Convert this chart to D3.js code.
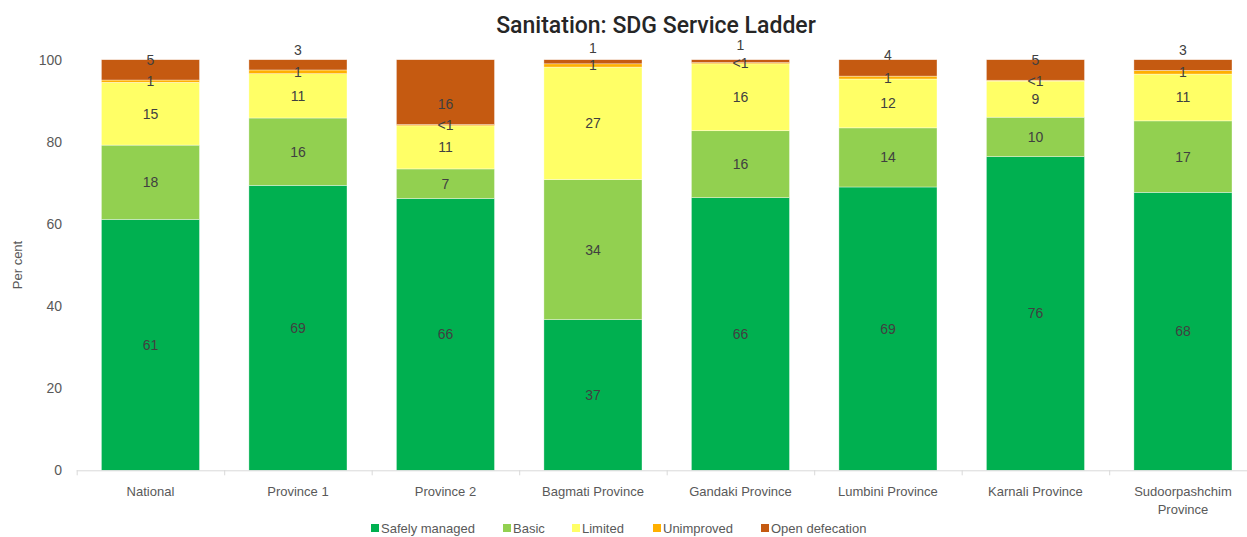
<!DOCTYPE html>
<html>
<head>
<meta charset="utf-8">
<script src="https://cdn.jsdelivr.net/npm/d3@7"></script>
<style>
  html, body { margin: 0; padding: 0; background: #fff; }
  svg { display: block; font-family: "Liberation Sans", Arial, sans-serif; }
</style>
</head>
<body>
<svg id="chart" width="1247" height="537"></svg>
<script>
// categories and the five ladder levels (per cent)
const categories = ['National', 'Province 1', 'Province 2', 'Bagmati Province', 'Gandaki Province',
                    'Lumbini Province', 'Karnali Province', 'Sudoorpashchim Province'];
const safelyManaged = [61.1, 69.4, 66.2, 36.7, 66.4, 69.0, 76.4, 67.7];
const basic         = [18.1, 16.4,  7.2, 34.1, 16.3, 14.4,  9.6, 17.4];
const limited       = [15.3, 10.8, 10.5, 27.4, 16.3, 11.9,  8.8, 11.4];
const unimproved    = [0.55,  0.9,  0.3,  0.8,  0.3,  0.7,  0.2,  0.9];
const openDefecation= [4.95,  2.5, 15.8,  1.0,  0.7,  4.0,  5.0,  2.6];
const yTicks = [0, 20, 40, 60, 80, 100];

const seriesNames  = ['Safely managed', 'Basic', 'Limited', 'Unimproved', 'Open defecation'];
const seriesValues = [safelyManaged, basic, limited, unimproved, openDefecation];
const seriesColors = ['#00b050', '#92d050', '#ffff66', '#ffb000', '#c55a11'];

// open defecation labels were nudged by hand in the original (px)
const odLabelShift = [-10, -15, 12, -14, -16, -13, -10, -15];

const svg = d3.select('#chart');
const plotTop = 59.7, plotBottom = 470.3;

const x = d3.scaleBand()
    .domain(categories)
    .range([76.7, 1256.7])
    .paddingInner(0.335)
    .paddingOuter(0.1675);

const y = d3.scaleLinear().domain([0, 100]).range([plotBottom, plotTop]);

// build stacked rows
const rows = categories.map((c, i) => {
    const r = { cat: c };
    seriesNames.forEach((s, k) => { r[s] = seriesValues[k][i]; });
    return r;
});
const stack = d3.stack().keys(seriesNames)(rows);

// title
svg.append('text')
    .attr('x', 656).attr('y', 33)
    .attr('text-anchor', 'middle')
    .style('font-family', 'Roboto, "Liberation Sans", sans-serif')
    .style('font-weight', 500)
    .style('font-size', '23px')
    .style('fill', '#262626')
    .text('Sanitation: SDG Service Ladder');

// bars
stack.forEach((layer, k) => {
    svg.append('g').selectAll('rect')
        .data(layer)
        .join('rect')
        .attr('x', d => x(d.data.cat))
        .attr('y', d => y(d[1]))
        .attr('width', x.bandwidth())
        .attr('height', d => y(d[0]) - y(d[1]))
        .attr('fill', seriesColors[k])
        .attr('stroke', '#ffffff')
        .attr('stroke-width', 0.6)
        .attr('stroke-opacity', 0.6);
});

// data labels
stack.forEach((layer, k) => {
    svg.append('g').selectAll('text')
        .data(layer)
        .join('text')
        .attr('x', d => x(d.data.cat) + x.bandwidth() / 2)
        .attr('y', (d, i) => (y(d[0]) + y(d[1])) / 2 + 5 + (k === 4 ? odLabelShift[i] : 0))
        .attr('text-anchor', 'middle')
        .style('font-size', '14px')
        .style('fill', '#404040')
        .text(d => {
            const v = d[1] - d[0];
            return v < 0.5 ? '<1' : Math.round(v);
        });
});

// y axis labels
svg.append('g').selectAll('text')
    .data(yTicks)
    .join('text')
    .attr('x', 62)
    .attr('y', d => y(d) + 5)
    .attr('text-anchor', 'end')
    .style('font-size', '14px')
    .style('fill', '#595959')
    .text(d => d);

svg.append('text')
    .attr('transform', `translate(22, ${(plotTop + plotBottom) / 2}) rotate(-90)`)
    .attr('text-anchor', 'middle')
    .style('font-size', '13px')
    .style('fill', '#595959')
    .text('Per cent');

// x axis line and ticks
const xAxis = svg.append('g');
xAxis.append('line')
    .attr('x1', x.range()[0]).attr('x2', x.range()[1])
    .attr('y1', plotBottom + 0.5).attr('y2', plotBottom + 0.5)
    .attr('stroke', '#d9d9d9');
const bounds = categories.map((c, i) => x.range()[0] + i * x.step()).concat([x.range()[1]]);
xAxis.selectAll('line.tick')
    .data(bounds)
    .join('line')
    .attr('class', 'tick')
    .attr('x1', d => d + 0.5).attr('x2', d => d + 0.5)
    .attr('y1', plotBottom).attr('y2', plotBottom + 5)
    .attr('stroke', '#d9d9d9');

// category labels (wrap the long one)
xAxis.selectAll('text')
    .data(categories)
    .join('text')
    .attr('x', d => x(d) + x.bandwidth() / 2)
    .attr('y', 496)
    .attr('text-anchor', 'middle')
    .style('font-size', '13px')
    .style('fill', '#595959')
    .each(function(d) {
        const t = d3.select(this);
        const lines = d.length > 18 ? d.split(' ') : [d];
        lines.forEach((ln, j) => {
            t.append('tspan')
                .attr('x', x(d) + x.bandwidth() / 2)
                .attr('dy', j === 0 ? 0 : 18)
                .text(ln);
        });
    });

// legend
const legendX = [371, 503, 572, 653, 761];
const legend = svg.append('g');
seriesNames.forEach((s, k) => {
    legend.append('rect')
        .attr('x', legendX[k]).attr('y', 524)
        .attr('width', 8).attr('height', 8)
        .attr('fill', seriesColors[k]);
    legend.append('text')
        .attr('x', legendX[k] + 10).attr('y', 533)
        .style('font-size', '13px')
        .style('fill', '#595959')
        .text(s);
});
</script>
</body>
</html>
